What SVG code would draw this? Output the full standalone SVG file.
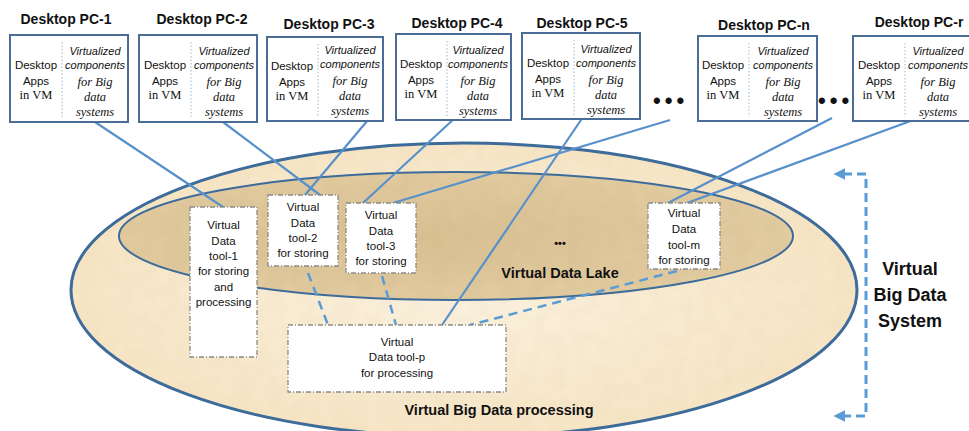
<svg xmlns="http://www.w3.org/2000/svg" width="969" height="431" viewBox="0 0 969 431">
<style>
.title{font-family:"Liberation Sans",Arial,sans-serif;font-weight:bold;font-size:14px;fill:#111;text-anchor:middle}
.pcbox{fill:#fff;stroke:#4b6c95;stroke-width:2}
.div{stroke:#9fb4cc;stroke-width:1;stroke-dasharray:1.5 2}
.sans{font-family:"Liberation Sans",Arial,sans-serif;font-size:11.5px;fill:#111;text-anchor:middle}
.isans{font-family:"Liberation Sans",Arial,sans-serif;font-style:italic;font-size:11px;fill:#111;text-anchor:middle}
.serif{font-family:"Liberation Serif","Times New Roman",serif;font-size:12.5px;fill:#111;text-anchor:middle}
.iserif{font-family:"Liberation Serif","Times New Roman",serif;font-style:italic;font-size:12.5px;fill:#111;text-anchor:middle}
.tool{fill:#fff;stroke:#8a8a8a;stroke-width:1.3;stroke-dasharray:5 2 1 2}
.tt{font-family:"Liberation Sans",Arial,sans-serif;font-size:11.5px;fill:#111;text-anchor:middle}
.solid{stroke:#5890cb;stroke-width:2.2;fill:none}
.dash{stroke:#5b9bd5;stroke-width:2.5;fill:none;stroke-dasharray:9 6}
.bold{font-family:"Liberation Sans",Arial,sans-serif;font-weight:bold;fill:#111;text-anchor:middle}
.dots{font-family:"Liberation Sans",Arial,sans-serif;font-weight:bold;font-size:22px;fill:#111;letter-spacing:4px}
</style>
<defs>
<radialGradient id="gOuter" cx="0.5" cy="0.5" r="0.6">
<stop offset="0" stop-color="#fbf1de"/>
<stop offset="1" stop-color="#f5e3c0"/>
</radialGradient>
<radialGradient id="gInner" cx="0.45" cy="0.5" r="0.6">
<stop offset="0" stop-color="#d9c092"/>
<stop offset="1" stop-color="#e3cda2"/>
</radialGradient>
<filter id="grain" x="0" y="0" width="100%" height="100%">
<feTurbulence type="fractalNoise" baseFrequency="0.06" numOctaves="3" seed="4"/>
<feColorMatrix type="matrix" values="0 0 0 0 0.55  0 0 0 0 0.42  0 0 0 0 0.22  0 0 0 0.9 -0.3"/>
</filter>
<clipPath id="clipInner"><ellipse cx="456" cy="236" rx="337" ry="64"/></clipPath>
<clipPath id="clipOuter"><ellipse cx="464" cy="290" rx="393" ry="147"/></clipPath>
<marker id="arr" viewBox="0 0 10 10" refX="2" refY="5" markerWidth="4" markerHeight="4" orient="auto-start-reverse" markerUnits="strokeWidth">
<path d="M0,0 L10,5 L0,10 z" fill="#5b9bd5"/>
</marker>
</defs>

<g id="system-bg">
<ellipse cx="464" cy="290" rx="393" ry="147" fill="url(#gOuter)"/>
<g clip-path="url(#clipOuter)" opacity="0.12">
<rect x="70" y="140" width="790" height="300" filter="url(#grain)"/>
</g>
<ellipse cx="456" cy="236" rx="337" ry="64" fill="url(#gInner)"/>
<g clip-path="url(#clipInner)" opacity="0.3">
<rect x="118" y="170" width="678" height="132" filter="url(#grain)"/>
</g>
<ellipse cx="464" cy="290" rx="393" ry="147" fill="none" stroke="#3d6b9a" stroke-width="3"/>
<ellipse cx="456" cy="236" rx="337" ry="64" fill="none" stroke="#3d6b9a" stroke-width="2"/>
</g>

<g id="labels">
<text class="bold" x="560" y="247" font-size="11">•••</text>
<text class="bold" x="560" y="278" font-size="14.5">Virtual Data Lake</text>
<text class="bold" x="499" y="415" font-size="14.5">Virtual Big Data processing</text>
<text class="bold" x="910" y="275" font-size="18">Virtual</text>
<text class="bold" x="910" y="301" font-size="18">Big Data</text>
<text class="bold" x="910" y="327" font-size="18">System</text>
<text class="dots" x="653" y="108">•••</text>
<text class="dots" x="818" y="108">•••</text>
</g>

<g id="connectors">
<line class="solid" x1="95" y1="122" x2="223" y2="207"/>
<line class="solid" x1="223" y1="122" x2="320" y2="195"/>
<line class="solid" x1="373" y1="114" x2="305" y2="195"/>
<line class="solid" x1="456" y1="117" x2="363" y2="203"/>
<line class="solid" x1="583" y1="117" x2="442" y2="325"/>
<line class="solid" x1="670" y1="120" x2="393" y2="203"/>
<line class="solid" x1="832" y1="118" x2="668" y2="203"/>
<line class="solid" x1="946" y1="108" x2="687" y2="203"/>
<line class="dash" x1="308" y1="273" x2="328" y2="325"/>
<line class="dash" x1="382" y1="276" x2="396" y2="325"/>
<line class="dash" x1="677" y1="271" x2="470" y2="325"/>
<path d="M843,174 H866 V416 H843" fill="none" stroke="#5b9bd5" stroke-width="3" stroke-dasharray="9 5" marker-start="url(#arr)" marker-end="url(#arr)"/>
</g>

<g id="pc1">
<text class="title" x="66" y="24">Desktop PC-1</text>
<rect class="pcbox" x="10" y="35" width="118" height="87"/>
<line class="div" x1="62" y1="42" x2="62" y2="118"/>
<text class="sans" x="36" y="69">Desktop</text><text class="sans" x="36" y="85">Apps</text><text class="serif" x="36" y="99">in VM</text>
<text class="isans" x="95" y="55">Virtualized</text><text class="isans" x="95" y="69">components</text><text class="iserif" x="95" y="86">for Big</text><text class="iserif" x="95" y="101">data</text><text class="iserif" x="95" y="116" font-size="11.5">systems</text>
</g>
<g id="pc2">
<text class="title" x="202" y="24">Desktop PC-2</text>
<rect class="pcbox" x="139" y="35" width="118" height="87"/>
<line class="div" x1="191" y1="42" x2="191" y2="118"/>
<text class="sans" x="165" y="69">Desktop</text><text class="sans" x="165" y="85">Apps</text><text class="serif" x="165" y="99">in VM</text>
<text class="isans" x="224" y="55">Virtualized</text><text class="isans" x="224" y="69">components</text><text class="iserif" x="224" y="86">for Big</text><text class="iserif" x="224" y="101">data</text><text class="iserif" x="224" y="116" font-size="11.5">systems</text>
</g>
<g id="pc3">
<text class="title" x="329" y="29">Desktop PC-3</text>
<rect class="pcbox" x="267" y="37" width="116" height="84"/>
<line class="div" x1="318" y1="44" x2="318" y2="117"/>
<text class="sans" x="292" y="70">Desktop</text><text class="sans" x="292" y="86">Apps</text><text class="serif" x="292" y="100">in VM</text>
<text class="isans" x="350" y="54">Virtualized</text><text class="isans" x="350" y="68">components</text><text class="iserif" x="350" y="85">for Big</text><text class="iserif" x="350" y="100">data</text><text class="iserif" x="350" y="115" font-size="11.5">systems</text>
</g>
<g id="pc4">
<text class="title" x="457" y="28">Desktop PC-4</text>
<rect class="pcbox" x="396" y="34" width="115" height="86"/>
<line class="div" x1="447" y1="41" x2="447" y2="117"/>
<text class="sans" x="421" y="68">Desktop</text><text class="sans" x="421" y="84">Apps</text><text class="serif" x="421" y="98">in VM</text>
<text class="isans" x="478" y="54">Virtualized</text><text class="isans" x="478" y="68">components</text><text class="iserif" x="478" y="85">for Big</text><text class="iserif" x="478" y="100">data</text><text class="iserif" x="478" y="115" font-size="11.5">systems</text>
</g>
<g id="pc5">
<text class="title" x="582" y="28">Desktop PC-5</text>
<rect class="pcbox" x="522" y="33" width="118" height="86"/>
<line class="div" x1="574" y1="40" x2="574" y2="116"/>
<text class="sans" x="548" y="67">Desktop</text><text class="sans" x="548" y="83">Apps</text><text class="serif" x="548" y="97">in VM</text>
<text class="isans" x="606" y="53">Virtualized</text><text class="isans" x="606" y="67">components</text><text class="iserif" x="606" y="84">for Big</text><text class="iserif" x="606" y="99">data</text><text class="iserif" x="606" y="114" font-size="11.5">systems</text>
</g>
<g id="pcn">
<text class="title" x="764" y="30">Desktop PC-n</text>
<rect class="pcbox" x="698" y="36" width="119" height="85"/>
<line class="div" x1="749" y1="43" x2="749" y2="117"/>
<text class="sans" x="723" y="69">Desktop</text><text class="sans" x="723" y="85">Apps</text><text class="serif" x="723" y="99">in VM</text>
<text class="isans" x="783" y="55">Virtualized</text><text class="isans" x="783" y="69">components</text><text class="iserif" x="783" y="86">for Big</text><text class="iserif" x="783" y="101">data</text><text class="iserif" x="783" y="116" font-size="11.5">systems</text>
</g>
<g id="pcr">
<text class="title" x="919" y="27">Desktop PC-r</text>
<rect class="pcbox" x="853" y="36" width="119" height="85"/>
<line class="div" x1="905" y1="43" x2="905" y2="117"/>
<text class="sans" x="879" y="69">Desktop</text><text class="sans" x="879" y="85">Apps</text><text class="serif" x="879" y="99">in VM</text>
<text class="isans" x="938" y="55">Virtualized</text><text class="isans" x="938" y="69">components</text><text class="iserif" x="938" y="86">for Big</text><text class="iserif" x="938" y="101">data</text><text class="iserif" x="938" y="116" font-size="11.5">systems</text>
</g>

<g id="tool1">
<rect class="tool" x="190" y="207" width="67" height="150"/>
<text class="tt" x="223.5" y="229">Virtual</text><text class="tt" x="223.5" y="245">Data</text><text class="tt" x="223.5" y="260">tool-1</text><text class="tt" x="223.5" y="275">for storing</text><text class="tt" x="223.5" y="291">and</text><text class="tt" x="223.5" y="306">processing</text>
</g>
<g id="tool2">
<rect class="tool" x="268" y="195" width="70" height="71"/>
<text class="tt" x="303" y="211">Virtual</text><text class="tt" x="303" y="227">Data</text><text class="tt" x="303" y="242">tool-2</text><text class="tt" x="303" y="257">for storing</text>
</g>
<g id="tool3">
<rect class="tool" x="346" y="203" width="70" height="70"/>
<text class="tt" x="381" y="219">Virtual</text><text class="tt" x="381" y="235">Data</text><text class="tt" x="381" y="250">tool-3</text><text class="tt" x="381" y="265">for storing</text>
</g>
<g id="toolm">
<rect class="tool" x="648" y="203" width="72" height="66"/>
<text class="tt" x="684" y="217">Virtual</text><text class="tt" x="684" y="233">Data</text><text class="tt" x="684" y="249">tool-m</text><text class="tt" x="684" y="264">for storing</text>
</g>
<g id="toolp">
<rect class="tool" x="288" y="325" width="218" height="67"/>
<text class="tt" x="397" y="346">Virtual</text><text class="tt" x="397" y="361">Data tool-p</text><text class="tt" x="397" y="377">for processing</text>
</g>
</svg>
